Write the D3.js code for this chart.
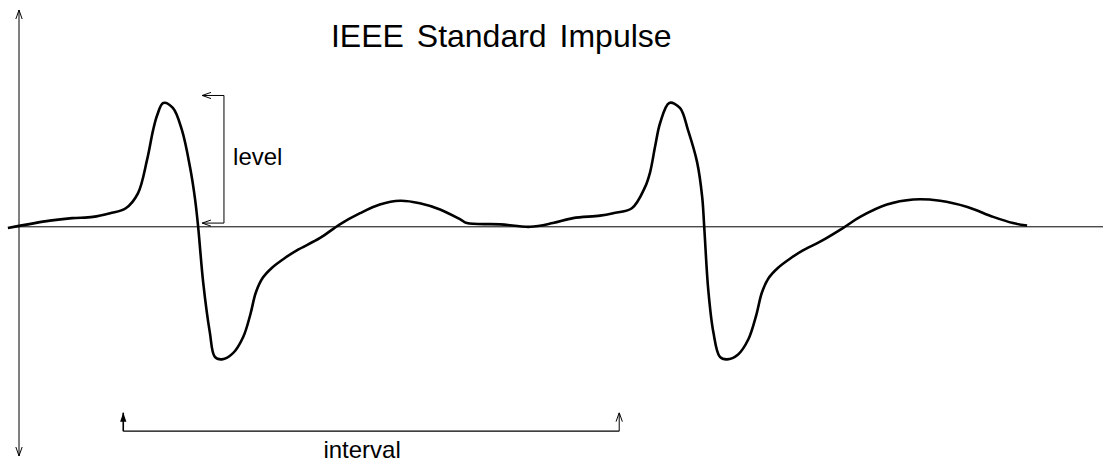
<!DOCTYPE html>
<html>
<head>
<meta charset="utf-8">
<script src="https://cdn.jsdelivr.net/npm/d3@7"></script>
<style>
  body { margin: 0; background: #fff; }
  text { font-family: "Liberation Sans", Arial, Helvetica, sans-serif; fill: #000; }
</style>
</head>
<body>
<div id="chart"></div>
<script>
// time (ms) and amplitude (normalised to the peak)
var times = [-0.22, 0.61, 1.05, 1.46, 1.80, 2.11, 2.35, 2.53, 2.65, 2.73, 2.85, 3.04, 3.22, 3.38, 3.48, 3.54,
  3.64, 3.77, 3.87, 4.01, 4.23, 4.43, 4.57, 4.68, 4.82, 5.00, 5.26, 5.49, 5.95, 6.34, 6.74, 7.13, 7.53, 7.92,
  8.32, 8.72, 8.85, 9.51, 10.10, 10.55, 10.95, 11.48, 11.74, 12.11, 12.37, 12.47, 12.57, 12.67, 12.85,
  13.06, 13.22, 13.40, 13.50, 13.54, 13.62, 13.72, 13.85, 13.99, 14.21, 14.41, 14.57, 14.68, 14.82, 15.00,
  15.26, 15.49, 15.83, 16.28, 16.62, 17.15, 17.67, 18.20, 18.74, 19.25, 19.64, 19.92];
var values = [-0.01, 0.05, 0.07, 0.08, 0.11, 0.15, 0.27, 0.54, 0.78, 0.90, 1.00, 0.96, 0.78, 0.48, 0.22, 0.00,
  -0.45, -0.85, -1.05, -1.07, -1.02, -0.89, -0.71, -0.53, -0.41, -0.33, -0.25, -0.19, -0.09, 0.02, 0.11, 0.18, 0.21, 0.19,
  0.14, 0.06, 0.03, 0.02, 0.00, 0.03, 0.07, 0.09, 0.11, 0.15, 0.32, 0.44, 0.65, 0.84, 1.00,
  0.96, 0.78, 0.52, 0.24, 0.00, -0.51, -0.85, -1.05, -1.07, -1.03, -0.91, -0.71, -0.53, -0.41, -0.33,
  -0.25, -0.19, -0.12, -0.01, 0.08, 0.18, 0.22, 0.21, 0.16, 0.08, 0.03, 0.01];

var title = "IEEE Standard Impulse";
var levelLabel = "level";
var intervalLabel = "interval";
var intervalSpan = [2.06, 11.86];   // ms
var levelSpan = [0.03, 1.06];

var width = 1103, height = 464;

var x = d3.scaleLinear().domain([0, 21.4]).range([19, 1102]);
var y = d3.scaleLinear().domain([-1.85, 1.75]).range([456, 10]);

var svg = d3.select('#chart').append('svg')
  .attr('width', width)
  .attr('height', height);

var defs = svg.append('defs');
defs.append('marker')
  .attr('id', 'open')
  .attr('viewBox', '0 0 10 10')
  .attr('refX', 10).attr('refY', 5)
  .attr('markerWidth', 9).attr('markerHeight', 9)
  .attr('markerUnits', 'userSpaceOnUse')
  .attr('orient', 'auto')
  .append('path')
  .attr('d', 'M0,1.5 L10,5 L0,8.5')
  .attr('fill', 'none')
  .attr('stroke', '#000')
  .attr('stroke-width', 1.1);
defs.append('marker')
  .attr('id', 'filled')
  .attr('viewBox', '0 0 10 10')
  .attr('refX', 10).attr('refY', 5)
  .attr('markerWidth', 9).attr('markerHeight', 9)
  .attr('markerUnits', 'userSpaceOnUse')
  .attr('orient', 'auto')
  .append('path')
  .attr('d', 'M0,1.5 L10,5 L0,8.5 Z')
  .attr('fill', '#000');

// axes
svg.append('line')
  .attr('x1', x(0)).attr('x2', x(0))
  .attr('y1', y(0)).attr('y2', y(1.75))
  .attr('stroke', '#000').attr('stroke-width', 1)
  .attr('marker-end', 'url(#open)');
svg.append('line')
  .attr('x1', x(0)).attr('x2', x(0))
  .attr('y1', y(0)).attr('y2', y(-1.85))
  .attr('stroke', '#000').attr('stroke-width', 1)
  .attr('marker-end', 'url(#open)');
svg.append('line')
  .attr('x1', x(-0.1)).attr('x2', width)
  .attr('y1', y(0)).attr('y2', y(0))
  .attr('stroke', '#000').attr('stroke-width', 1);

// waveform
var pts = times.map(function(t, i) { return [t, values[i]]; });
var line = d3.line()
  .x(function(d) { return x(d[0]); })
  .y(function(d) { return y(d[1]); })
  .curve(d3.curveCatmullRom.alpha(0.5));
svg.append('path')
  .attr('d', line(pts))
  .attr('fill', 'none')
  .attr('stroke', '#000')
  .attr('stroke-width', 2.6)
  .attr('stroke-linejoin', 'round');

// level bracket
var lx = 4.05, lTip = 3.62;
svg.append('path')
  .attr('d', 'M' + x(lx) + ',' + y(levelSpan[0]) + 'L' + x(lx) + ',' + y(levelSpan[1]))
  .attr('fill', 'none').attr('stroke', '#000').attr('stroke-width', 1);
levelSpan.forEach(function(v) {
  svg.append('line')
    .attr('x1', x(lx)).attr('x2', x(lTip))
    .attr('y1', y(v)).attr('y2', y(v))
    .attr('stroke', '#000').attr('stroke-width', 1)
    .attr('marker-end', 'url(#open)');
});
svg.append('text')
  .attr('x', x(4.23)).attr('y', y(0.5))
  .attr('font-size', 24)
  .text(levelLabel);

// interval bracket
var iy = -1.65, iTip = -1.50;
svg.append('line')
  .attr('x1', x(intervalSpan[0])).attr('x2', x(intervalSpan[1]))
  .attr('y1', y(iy)).attr('y2', y(iy))
  .attr('stroke', '#000').attr('stroke-width', 1.2);
svg.append('line')
  .attr('x1', x(intervalSpan[0])).attr('x2', x(intervalSpan[0]))
  .attr('y1', y(iy)).attr('y2', y(iTip))
  .attr('stroke', '#000').attr('stroke-width', 1.6)
  .attr('marker-end', 'url(#filled)');
svg.append('line')
  .attr('x1', x(intervalSpan[1])).attr('x2', x(intervalSpan[1]))
  .attr('y1', y(iy)).attr('y2', y(iTip))
  .attr('stroke', '#000').attr('stroke-width', 1)
  .attr('marker-end', 'url(#open)');
svg.append('text')
  .attr('x', x(6.78)).attr('y', y(-1.865))
  .attr('text-anchor', 'middle')
  .attr('font-size', 24)
  .text(intervalLabel);

// title
svg.append('text')
  .attr('x', x(9.53)).attr('y', y(1.45))
  .attr('text-anchor', 'middle')
  .attr('font-size', 32)
  .attr('word-spacing', 4)
  .text(title);
</script>
</body>
</html>
